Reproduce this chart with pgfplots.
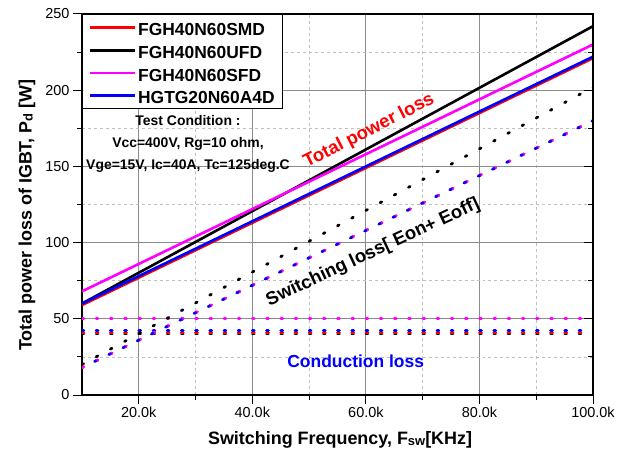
\documentclass[border=0pt]{standalone}
\usepackage{fontspec}
\setmainfont{Liberation Sans}
\usepackage{pgfplots}
\pgfplotsset{compat=1.18}
\definecolor{cRed}{RGB}{255,0,0}
\definecolor{cMag}{RGB}{255,0,255}
\definecolor{cBlue}{RGB}{0,0,255}
\begin{document}
\begin{tikzpicture}
\begin{axis}[
  name=ax,
  width=511bp, height=381bp, scale only axis,
  xmin=10, xmax=100, ymin=0, ymax=250,
  xtick={20,40,60,80,100},
  xticklabels={20.0k,40.0k,60.0k,80.0k,100.0k},
  minor xtick={30,50,70,90},
  ytick={0,50,100,150,200,250},
  minor ytick={25,75,125,175,225},
  tick pos=left,
  tick align=outside,
  major tick length=9bp, minor tick length=5bp,
  every tick/.style={black, line width=1bp},
  axis line style={line width=1.5bp},
  grid=both,
  major grid style={black!45, line width=0.8bp},
  minor grid style={black!25, dashed, line width=0.6bp},
  ticklabel style={font=\fontsize{14.5}{16}\selectfont},
  /pgf/number format/assume math mode=true,
  xlabel={Switching Frequency, F\raisebox{-1bp}{\fontsize{13}{13}\selectfont sw}[KHz]},
  ylabel={Total power loss of IGBT, P\raisebox{-1bp}{\fontsize{13}{13}\selectfont d} [W]},
  label style={font=\bfseries\fontsize{18}{20}\selectfont},
  xlabel style={at={(axis description cs:0.505,-0.118)}, anchor=center},
  ylabel style={at={(axis description cs:-0.1076,0.472)}, anchor=center},
  legend style={at={(axis description cs:0,1)}, anchor=north west,
    draw=black, line width=1bp, fill=white,
    font=\bfseries\fontsize{17.5}{19}\selectfont,
    inner xsep=6bp, inner ysep=3bp, row sep=2.2bp,
    nodes={inner sep=2bp, text height=16.4bp, text depth=0bp},
    cells={anchor=west}},
  legend image code/.code={\draw[#1, line width=2.6bp, solid] (0bp,0bp) -- (41bp,0bp); \path (0bp,0bp) -- (45bp,0bp);},
]
% total power loss (solid)
\addplot[cRed, line width=2.6bp] coordinates {(10,59) (100,221)};
\addlegendentry{FGH40N60SMD}
\addplot[black, line width=2.6bp] coordinates {(10,60) (100,242)};
\addlegendentry{FGH40N60UFD}
\addplot[cMag, line width=2.6bp] coordinates {(10,68) (100,230)};
\addlegendentry{FGH40N60SFD}
\addplot[cBlue, line width=2.6bp] coordinates {(10,60) (100,222)};
\addlegendentry{HGTG20N60A4D}
% conduction loss (dotted)
\addplot[forget plot, cMag, line width=2.8bp, line cap=round, dash pattern=on 1.8bp off 12.4bp] coordinates {(10,50) (100,50)};
\addplot[forget plot, black, line width=2.8bp, line cap=round, dash pattern=on 1.8bp off 12.4bp] coordinates {(10,40) (100,40)};
\addplot[forget plot, cRed, line width=2.8bp, line cap=round, dash pattern=on 1.8bp off 12.4bp] coordinates {(10,41) (100,41)};
\addplot[forget plot, cBlue, line width=2.8bp, line cap=round, dash pattern=on 1.8bp off 12.4bp] coordinates {(10,42.2) (100,42.2)};
% switching loss (dotted)
\addplot[forget plot, black, line width=2.8bp, line cap=round, dash pattern=on 1.8bp off 14.35bp] coordinates {(10,20) (100,202)};
\addplot[forget plot, cRed, line width=2.8bp, line cap=round, dash pattern=on 1.8bp off 13.98bp] coordinates {(10,18) (100,180)};
\addplot[forget plot, cMag, line width=2.8bp, line cap=round, dash pattern=on 1.8bp off 13.98bp] coordinates {(10,18) (100,180)};
\addplot[forget plot, cBlue, line width=2.8bp, line cap=round, dash pattern=on 1.8bp off 13.98bp, dash phase=1.8bp] coordinates {(10,18) (100,180)};
% annotations
\node[rotate=27, text=cRed, font=\bfseries\fontsize{18.5}{20}\selectfont] at (axis cs:60.55,173.2) {Total power loss};
\node[rotate=25, text=black, font=\bfseries\fontsize{18.5}{20}\selectfont] at (axis cs:61.25,93.5) {Switching loss[ Eon+ Eoff]};
\node[text=cBlue, font=\bfseries\fontsize{17.5}{19}\selectfont] at (axis cs:58.2,22.3) {Conduction loss};
\node[align=center, font=\bfseries\fontsize{14}{22.5}\selectfont] at (axis cs:28.67,164.7) {Test Condition :\\Vcc=400V, Rg=10 ohm,\\Vge=15V, Ic=40A, Tc=125deg.C};
\end{axis}
\begin{axis}[
  width=511bp, height=381bp, scale only axis,
  xmin=10, xmax=100, ymin=0, ymax=250,
  axis x line=none, axis y line*=right,
  axis line style={line width=1.5bp},
  ytick={0,50,100,150,200,250},
  minor ytick={25,75,125,175,225},
  yticklabels={}, tick align=inside,
  major tick length=9bp, minor tick length=5bp,
  every tick/.style={black, line width=1bp},
]
\end{axis}
\pgfresetboundingbox
\path[use as bounding box] ([xshift=-82bp,yshift=-59bp]ax.south west) rectangle ([xshift=25bp,yshift=14bp]ax.north east);
\end{tikzpicture}
\end{document}
